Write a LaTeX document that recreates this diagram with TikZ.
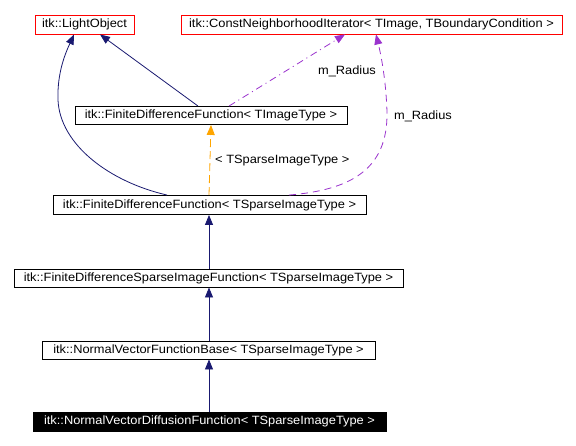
\documentclass[tikz,border=0pt]{standalone}
\usepackage{fontspec}
\setmainfont{Liberation Sans}
\usetikzlibrary{arrows.meta}
\definecolor{navyc}{HTML}{191970}
\definecolor{purplec}{HTML}{9A32CD}
\definecolor{orangec}{HTML}{FFA500}
\definecolor{redc}{HTML}{FF0000}
\newcommand{\lbl}[1]{\scalebox{1.07}[1]{#1}}
\tikzset{
  cls/.style={draw=black, line width=0.9pt, inner sep=0pt, minimum height=19pt, font=\fontsize{12}{14}\selectfont},
  ext/.style={cls, draw=redc},
  cur/.style={cls, fill=black, text=white},
  inh/.style={draw=navyc, line width=0.8pt, -{Triangle[length=10pt,width=8pt]}},
  tmpl/.style={draw=orangec, line width=0.8pt, dash pattern=on 8pt off 4pt, -{Triangle[length=10pt,width=8pt]}},
  use/.style={draw=purplec, line width=0.8pt, dash pattern=on 7pt off 5pt, -{Triangle[length=10pt,width=8pt]}},
  usedot/.style={draw=purplec, line width=0.8pt, dash pattern=on 7pt off 4pt on 1pt off 4pt, -{Triangle[length=10pt,width=8pt]}},
  elbl/.style={inner sep=0pt, font=\fontsize{12}{14}\selectfont}
}
\begin{document}
\begin{tikzpicture}[x=1pt,y=-1pt]
\useasboundingbox (0,0) rectangle (576,446);
\node[ext, minimum width=99pt] (lo) at (84.5,24.5) {\lbl{itk::LightObject}};
\node[ext, minimum width=381pt] (cni) at (371.5,24.5) {\lbl{itk::ConstNeighborhoodIterator< TImage, TBoundaryCondition >}};
\node[cls, minimum width=272pt, minimum height=18pt] (fdfi) at (211,115.5) {\lbl{itk::FiniteDifferenceFunction< TImageType >}};
\node[cls, minimum width=313pt] (fdfs) at (209.5,205) {\lbl{itk::FiniteDifferenceFunction< TSparseImageType >}};
\node[cls, minimum width=389pt, minimum height=18pt] (fdsi) at (208.5,278) {\lbl{itk::FiniteDifferenceSparseImageFunction< TSparseImageType >}};
\node[cls, minimum width=333pt, minimum height=18pt] (nvb) at (208.5,350) {\lbl{itk::NormalVectorFunctionBase< TSparseImageType >}};
\node[cur, minimum width=353pt] (nvd) at (209.5,421.5) {\lbl{itk::NormalVectorDiffusionFunction< TSparseImageType >}};

% inheritance
\draw[inh] ([xshift=-0.5pt]nvd.north) -- ([xshift=0.5pt]nvb.south);
\draw[inh] ([xshift=0.5pt]nvb.north) -- ([xshift=0.5pt]fdsi.south);
\draw[inh] ([xshift=0.5pt]fdsi.north) -- ([xshift=-0.5pt]fdfs.south);
\draw[inh] ([xshift=-13pt]fdfi.north) -- ([xshift=15.5pt]lo.south);
\draw[inh] ([xshift=-42.5pt]fdfs.north) .. controls (110,182) and (60,145) .. (58,100)
  .. controls (57,72) and (66,52) .. ([xshift=-10.5pt]lo.south);

% template
\draw[tmpl] ([xshift=-0.5pt]fdfs.north) -- (fdfi.south);
\node[elbl, anchor=west] (tl) at (215,161) {\lbl{< TSparseImageType >}};

% usage
\draw[usedot] ([xshift=18pt]fdfi.north) -- ([xshift=-26.5pt]cni.south);
\node[elbl] (r1) at (347,71) {\lbl{m\_Radius}};
\draw[use] ([xshift=79.5pt]fdfs.north) .. controls (350,190) and (388,170) .. (387,112)
  .. controls (386,80) and (381,55) .. ([xshift=4.5pt]cni.south);
\node[elbl] (r2) at (423,116) {\lbl{m\_Radius}};
\end{tikzpicture}
\end{document}
